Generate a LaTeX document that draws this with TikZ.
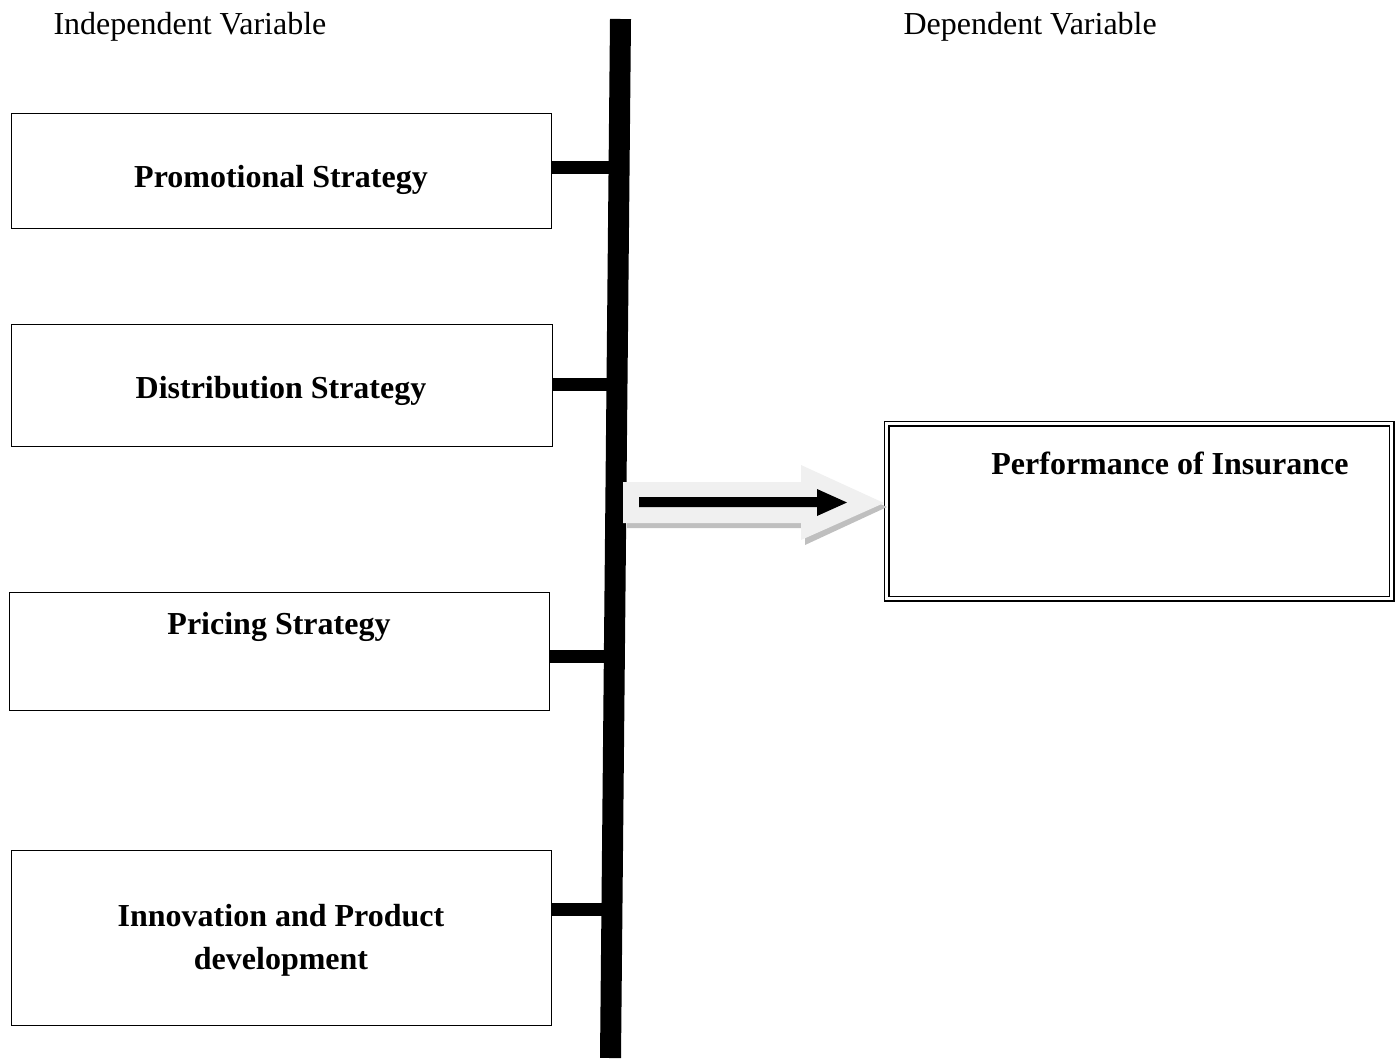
\documentclass[tikz,border=0pt]{standalone}
\usepackage{fontspec}
\setmainfont{Liberation Serif}
\usetikzlibrary{calc}
\begin{document}
\begin{tikzpicture}[x=1pt,y=-1pt,
  ivbox/.style={draw,line width=1.2pt,inner sep=0pt,anchor=north west},
  lbl/.style={font=\fontsize{32}{37}\selectfont\bfseries,align=center},
  head/.style={font=\fontsize{32}{37}\selectfont,anchor=west},
  link/.style={line width=13pt}]
\useasboundingbox (0,0) rectangle (1400,1060);
% headings
\node[head] (hiv) at (50,27) {Independent Variable};
\node[head] (hdv) at (900,27) {Dependent Variable};
% independent boxes
\node[ivbox,minimum width=540pt,minimum height=115pt] (b1) at (11,113) {};
\node[lbl] (t1) at (281,180) {Promotional Strategy};
\node[ivbox,minimum width=541pt,minimum height=122pt] (b2) at (11,324) {};
\node[lbl] (t2) at (281,391) {Distribution Strategy};
\node[ivbox,minimum width=540pt,minimum height=118pt] (b3) at (9,592) {};
\node[lbl] (t3) at (279,627) {Pricing Strategy};
\node[ivbox,minimum width=540pt,minimum height=175pt] (b4) at (11,850) {};
\node[lbl] (t4) at (281,940) {Innovation and Product\\[6pt]development};
% dependent box
\node[draw,double,double distance=3pt,line width=1.5pt,inner sep=0pt,anchor=north west,
  minimum width=505pt,minimum height=175pt] (dv) at (886,423) {};
\node[lbl] (tdv) at (1170,463) {Performance of Insurance};
% connectors
\coordinate (bartop) at (620.5,19);
\coordinate (barbot) at (610.5,1058);
\draw[link] (b1.east |- 0,167) -- (612,167);
\draw[link] (b2.east |- 0,384) -- (612,384);
\draw[link] (b3.east |- 0,656) -- (612,656);
\draw[link] (b4.east |- 0,909) -- (612,909);
\draw[line width=21pt] (bartop) -- (barbot);
% block arrow with shadow
\fill[black!25] (627,488) -- (805,488) -- (805,470) -- (887,507) -- (805,545) -- (805,528) -- (627,528) -- cycle;
\fill[black!6] (623,482) -- (801,482) -- (801,465) -- (884,503) -- (801,540) -- (801,523) -- (623,523) -- cycle;
\fill (639,497) -- (817,497) -- (817,489) -- (847,502.5) -- (817,516) -- (817,507) -- (639,507) -- cycle;
\end{tikzpicture}
\end{document}
